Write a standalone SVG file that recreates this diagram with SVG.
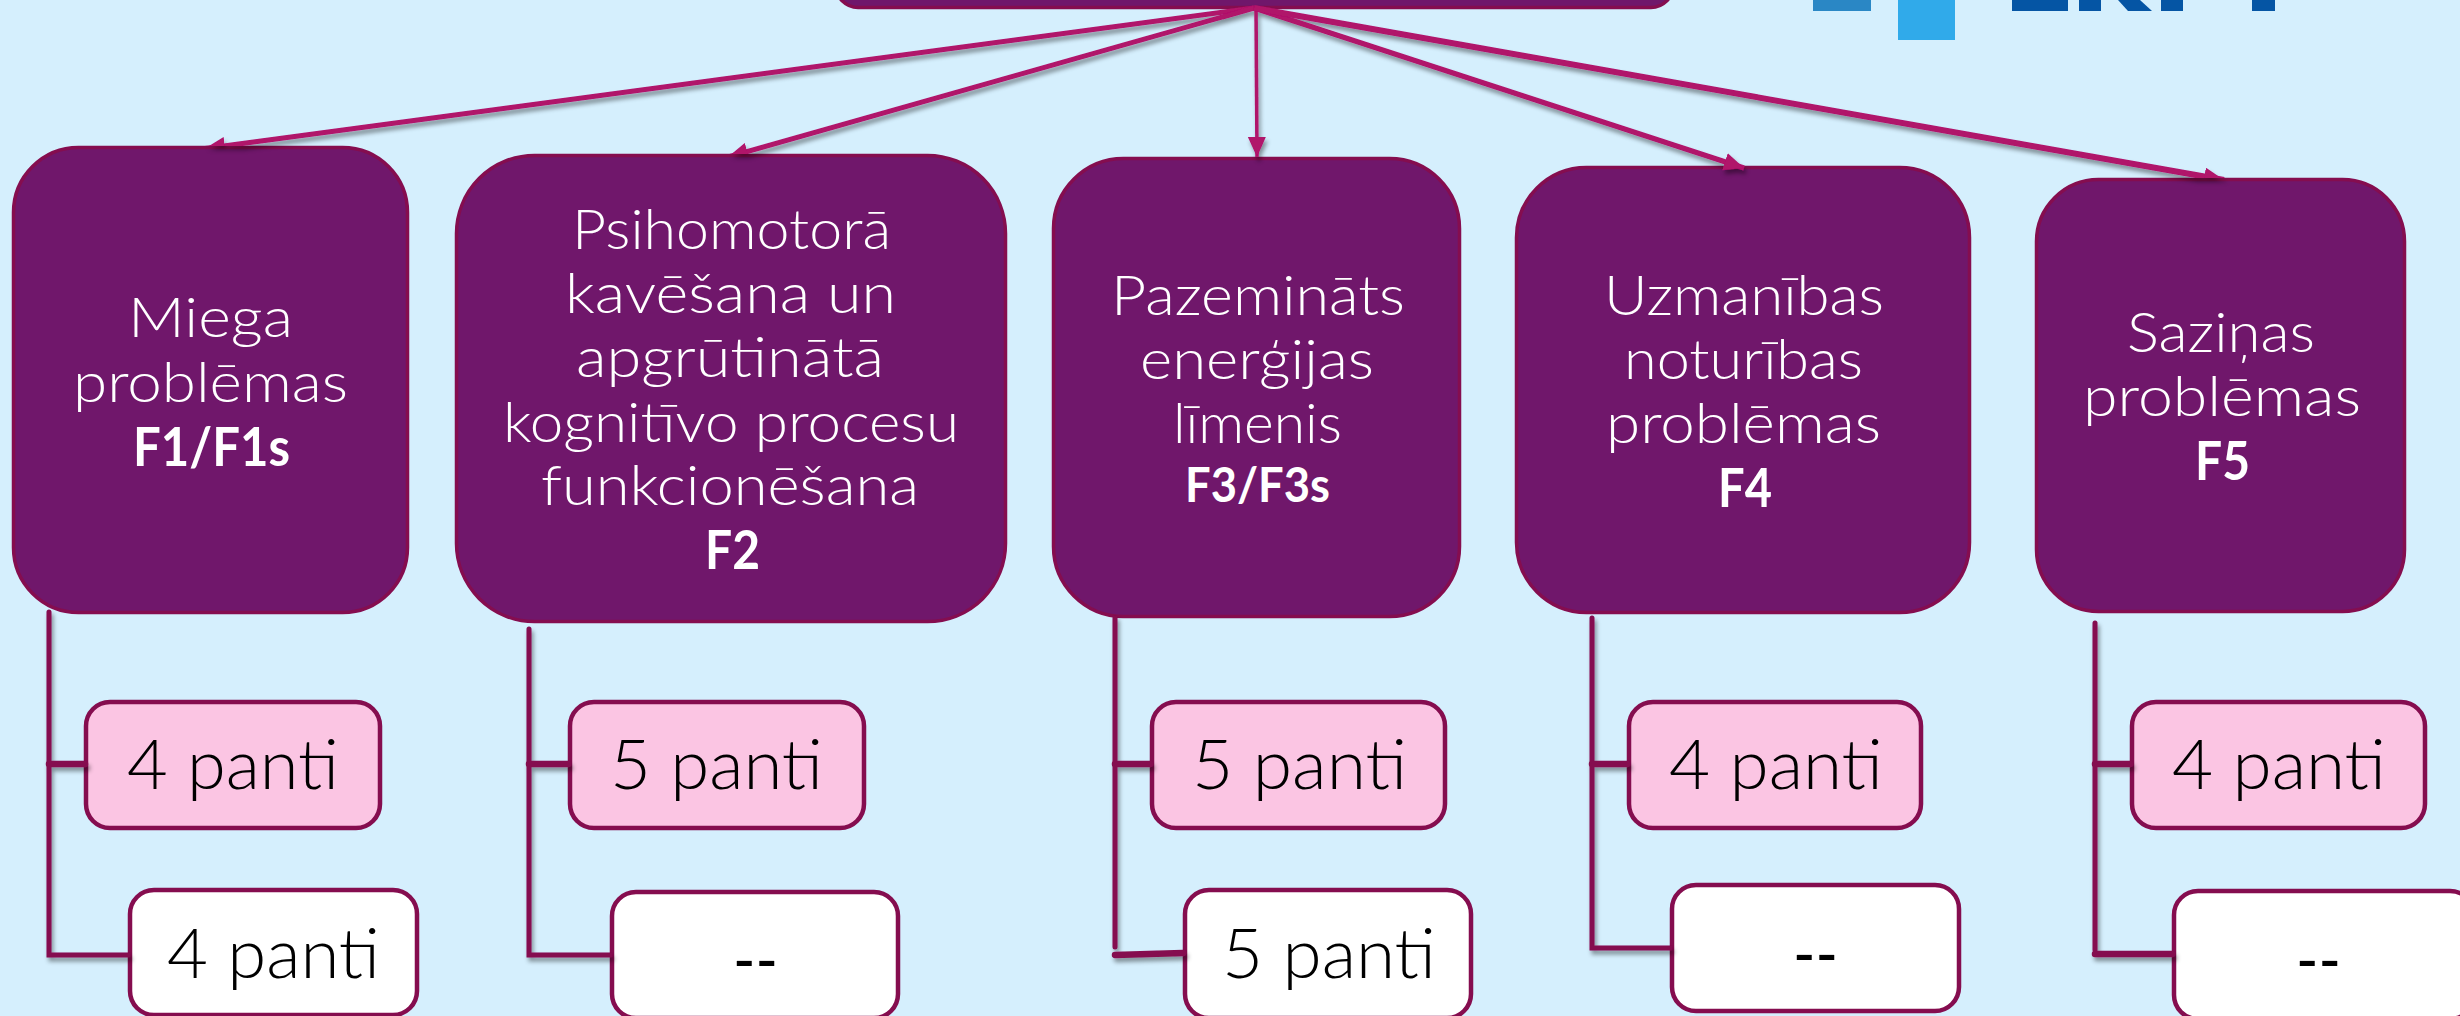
<svg xmlns="http://www.w3.org/2000/svg" width="2460" height="1016" viewBox="0 0 2460 1016">
<style>
.big{fill:#70176b;stroke:#850d4f;stroke-width:3.5}
.pink{fill:#fbc5e3;stroke:#850d4f;stroke-width:4.5}
.white{fill:#fff;stroke:#850d4f;stroke-width:4.5}
text{font-family:"Lato","Noto Sans",sans-serif}
.t{fill:#fff;font-size:56px;font-weight:300}
.b{fill:#fff;font-size:54px;font-weight:700}
.p{fill:#000;font-size:68px;font-weight:300}
.d{fill:#000;font-size:68px;font-weight:400}
.a{stroke:#b0126b;fill:none}
.s{stroke:#850d4f;fill:none;stroke-linecap:round}
</style>
<defs>
<filter id="sh" x="-5%" y="-5%" width="110%" height="110%"><feDropShadow dx="2" dy="4" stdDeviation="2" flood-color="#000" flood-opacity=".4"/></filter>
<marker id="ah" markerUnits="userSpaceOnUse" markerWidth="22" markerHeight="20" refX="20" refY="9" orient="auto"><path d="M0 0L20 9L0 18Z" fill="#b0126b"/></marker>
<clipPath id="c1"><rect x="0" y="0" width="2460" height="146"/></clipPath>
<clipPath id="c2"><rect x="0" y="0" width="2460" height="154"/></clipPath>
<clipPath id="c5"><rect x="0" y="0" width="2460" height="178"/></clipPath>
</defs>
<rect id="background" width="2460" height="1016" fill="#d5effd"/>
<g id="logo">
<rect x="1813" y="0" width="58" height="11" fill="#2a87c5"/>
<rect x="1898" y="0" width="57" height="40" fill="#30aaea"/>
<rect x="2012" y="0" width="56" height="11" fill="#0555a4"/>
<rect x="2079" y="0" width="22" height="11" fill="#0555a4"/>
<path d="M2118 0H2140L2152 11H2128Z" fill="#0555a4"/>
<rect x="2161" y="0" width="22" height="11" fill="#0555a4"/>
<rect x="2252" y="0" width="23" height="11" fill="#0555a4"/>
</g>
<g id="top"><rect class="big" x="836" y="-40" width="837" height="47.500" rx="22"/></g>
<g id="n1"><rect class="big" x="13.500" y="147.500" width="394" height="465" rx="65"/>
<text class="t" x="128" y="337" textLength="165" lengthAdjust="spacingAndGlyphs">Miega</text>
<text class="t" x="73" y="402" textLength="275" lengthAdjust="spacingAndGlyphs">problēmas</text>
<text class="b" x="133" y="466" textLength="157" lengthAdjust="spacingAndGlyphs">F1/F1s</text></g>
<g id="n2"><rect class="big" x="456.500" y="155.500" width="549" height="466" rx="78"/>
<text class="t" x="572" y="249" textLength="319" lengthAdjust="spacingAndGlyphs">Psihomotorā</text>
<text class="t" x="565" y="313" textLength="331" lengthAdjust="spacingAndGlyphs">kavēšana un</text>
<text class="t" x="576" y="377" textLength="308" lengthAdjust="spacingAndGlyphs">apgrūtinātā</text>
<text class="t" x="503" y="442" textLength="456" lengthAdjust="spacingAndGlyphs">kognitīvo procesu</text>
<text class="t" x="541" y="505" textLength="378" lengthAdjust="spacingAndGlyphs">funkcionēšana</text>
<text class="b" x="705" y="569" textLength="55" lengthAdjust="spacingAndGlyphs">F2</text></g>
<g id="n3"><rect class="big" x="1053.500" y="158.500" width="406" height="458" rx="70"/>
<text class="t" x="1111" y="315" textLength="294" lengthAdjust="spacingAndGlyphs">Pazemināts</text>
<text class="t" x="1140" y="379" textLength="234" lengthAdjust="spacingAndGlyphs">enerģijas</text>
<text class="t" x="1173" y="443" textLength="169" lengthAdjust="spacingAndGlyphs">līmenis</text>
<text class="b" x="1185" y="502" textLength="145" lengthAdjust="spacingAndGlyphs" style="font-size:48px">F3/F3s</text></g>
<g id="n4"><rect class="big" x="1516.500" y="167.500" width="453" height="445" rx="70"/>
<text class="t" x="1604" y="315" textLength="280" lengthAdjust="spacingAndGlyphs">Uzmanības</text>
<text class="t" x="1624" y="379" textLength="239" lengthAdjust="spacingAndGlyphs">noturības</text>
<text class="t" x="1606" y="443" textLength="275" lengthAdjust="spacingAndGlyphs">problēmas</text>
<text class="b" x="1718" y="507" textLength="54" lengthAdjust="spacingAndGlyphs">F4</text></g>
<g id="n5"><rect class="big" x="2036.500" y="179.500" width="368" height="432" rx="62"/>
<text class="t" x="2127" y="352" textLength="188" lengthAdjust="spacingAndGlyphs">Saziņas</text>
<text class="t" x="2083" y="416" textLength="278" lengthAdjust="spacingAndGlyphs">problēmas</text>
<text class="b" x="2195" y="480" textLength="55" lengthAdjust="spacingAndGlyphs">F5</text></g>
<g id="p1"><rect class="pink" x="86" y="702" width="294" height="126" rx="24"/><text class="p" x="127" y="789" textLength="212" lengthAdjust="spacingAndGlyphs">4 panti</text></g>
<g id="w1"><rect class="white" x="130" y="890" width="287" height="125" rx="24"/><text class="p" x="167" y="978" textLength="213" lengthAdjust="spacingAndGlyphs">4 panti</text></g>
<g id="p2"><rect class="pink" x="570" y="702" width="294" height="126" rx="24"/><text class="p" x="610" y="789" textLength="213" lengthAdjust="spacingAndGlyphs">5 panti</text></g>
<g id="w2"><rect class="white" x="612" y="892" width="286" height="126" rx="24"/><text class="d" x="733" y="984" textLength="45" lengthAdjust="spacingAndGlyphs">--</text></g>
<g id="p3"><rect class="pink" x="1152" y="702" width="293" height="126" rx="24"/><text class="p" x="1192" y="789" textLength="215" lengthAdjust="spacingAndGlyphs">5 panti</text></g>
<g id="w3"><rect class="white" x="1185" y="890" width="286" height="128" rx="24"/><text class="p" x="1222" y="978" textLength="214" lengthAdjust="spacingAndGlyphs">5 panti</text></g>
<g id="p4"><rect class="pink" x="1629" y="702" width="292" height="126" rx="24"/><text class="p" x="1669" y="789" textLength="214" lengthAdjust="spacingAndGlyphs">4 panti</text></g>
<g id="w4"><rect class="white" x="1672" y="885" width="287" height="126" rx="24"/><text class="d" x="1793" y="978" textLength="45" lengthAdjust="spacingAndGlyphs">--</text></g>
<g id="p5"><rect class="pink" x="2132" y="702" width="293" height="126" rx="24"/><text class="p" x="2172" y="789" textLength="214" lengthAdjust="spacingAndGlyphs">4 panti</text></g>
<g id="w5"><rect class="white" x="2174" y="891" width="300" height="128" rx="24"/><text class="d" x="2296" y="984" textLength="45" lengthAdjust="spacingAndGlyphs">--</text></g>
<g id="connectors" filter="url(#sh)">
<line class="a" x1="1254" y1="8" x2="205" y2="148.500" stroke-width="5" marker-end="url(#ah)" clip-path="url(#c1)"/>
<line class="a" x1="1254" y1="8" x2="728" y2="157" stroke-width="5" marker-end="url(#ah)" clip-path="url(#c2)"/>
<line class="a" x1="1256" y1="8" x2="1257" y2="157" stroke-width="3.500" marker-end="url(#ah)"/>
<line class="a" x1="1254" y1="8" x2="1744" y2="168" stroke-width="5" marker-end="url(#ah)"/>
<line class="a" x1="1254" y1="8" x2="2224" y2="180" stroke-width="6" marker-end="url(#ah)" clip-path="url(#c5)"/>
<path class="s" stroke-width="5" d="M49 612V955H128"/>
<path class="s" stroke-width="6.500" d="M49 764H85"/>
<path class="s" stroke-width="5" d="M529 629V955H610"/>
<path class="s" stroke-width="6.500" d="M529 764H568"/>
<path class="s" stroke-width="5" d="M1115 618V947"/>
<path class="s" stroke-width="6.500" d="M1115 764H1150M1115 955L1183 953"/>
<path class="s" stroke-width="5" d="M1592 618V948H1670"/>
<path class="s" stroke-width="6.500" d="M1592 764H1627"/>
<path class="s" stroke-width="5" d="M2095 623V950"/>
<path class="s" stroke-width="6.500" d="M2095 764H2130M2095 954H2172"/>
</g>
</svg>
